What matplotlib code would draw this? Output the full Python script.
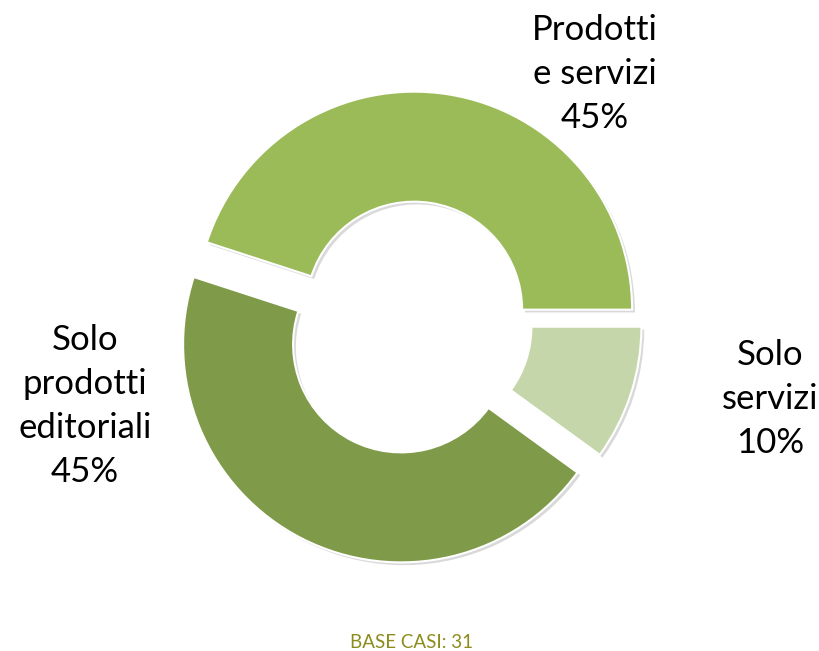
import matplotlib.pyplot as plt
from matplotlib import patheffects as pe

categorie = ['Prodotti\ne servizi', 'Solo\nprodotti\neditoriali', 'Solo\nservizi']
valori = [45, 45, 10]
colori = ['#9BBB59', '#7F9B4A', '#C5D6AB']
esplodi = [13.5, 24, 12]  # spostamento in pixel

plt.rcParams['font.family'] = ['Lato', 'DejaVu Sans']

fig = plt.figure(figsize=(8.19, 6.51), dpi=100)
ax = fig.add_axes([0, 0, 1, 1])

wedges, _ = ax.pie(valori, colors=colori, explode=esplodi, startangle=0,
                   counterclock=True, center=(412, 328), radius=218,
                   wedgeprops=dict(width=110, edgecolor='white', linewidth=1.5),
                   frame=True)
for w in wedges:
    w.set_path_effects([pe.SimplePatchShadow(offset=(2, -2), alpha=0.22, shadow_rgbFace='#555555'),
                        pe.Normal()])
ax.set_xlim(0, 819)
ax.set_ylim(0, 651)
ax.set_aspect('equal')
ax.axis('off')

# etichette
pos_etichette = [(595, 577), (85, 245), (770, 252)]
for cat, val, (x, y) in zip(categorie, valori, pos_etichette):
    ax.text(x, y, f'{cat}\n{val}%', ha='center', va='center', fontsize=25,
            linespacing=1.45, color='black')

ax.text(412, 2.5, 'BASE CASI: 31', ha='center', va='baseline', fontsize=13.5, color='#8C8C1C')

fig.savefig('out.png', dpi=100)
